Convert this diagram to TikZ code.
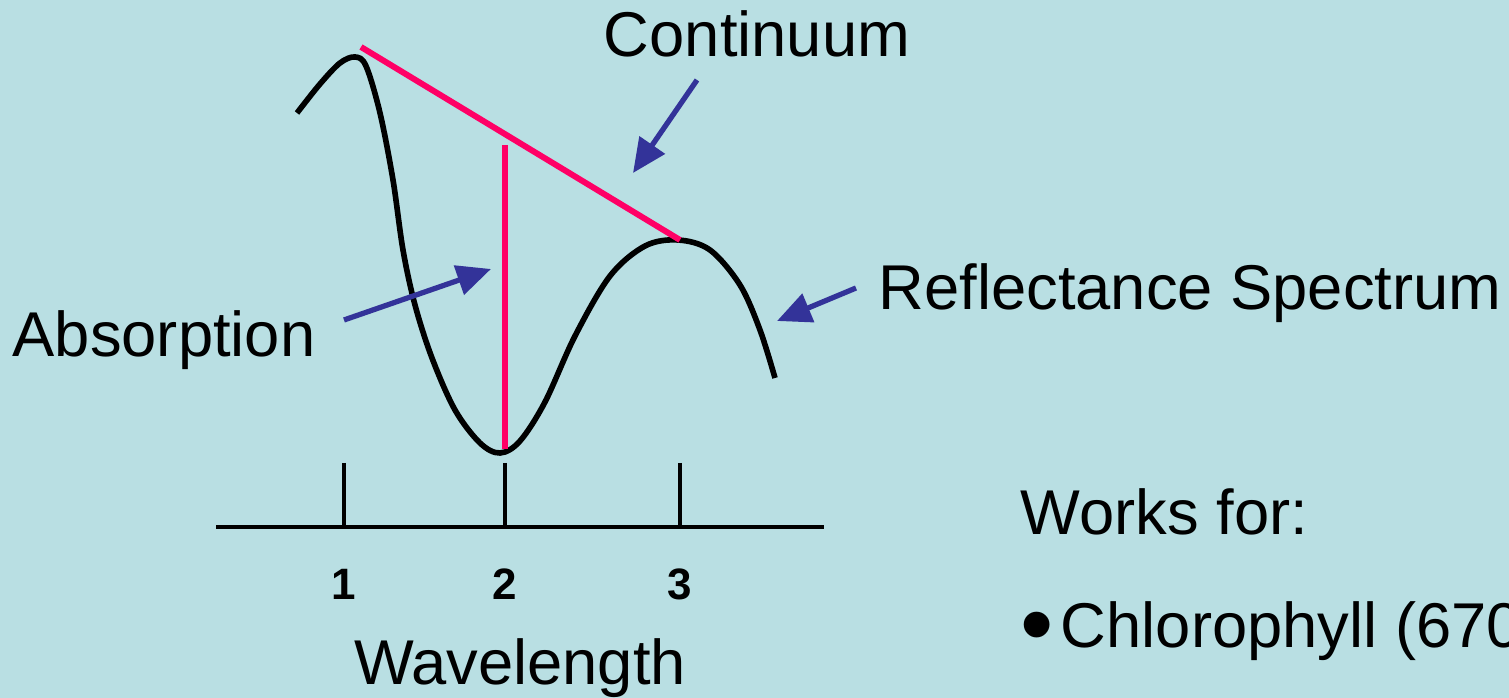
\documentclass[tikz,border=0pt]{standalone}
\usepackage{fontspec}
\setmainfont{Liberation Sans}
\usepackage{tikz}
\usetikzlibrary{arrows.meta, positioning, calc}
\definecolor{slidebg}{HTML}{B9DFE3}
\definecolor{contpink}{HTML}{FF0066}
\definecolor{pointblue}{HTML}{333399}

\begin{document}
\begin{tikzpicture}[
    x=0.01cm, y=-0.01cm,
    label/.style={inner sep=0pt, font=\fontsize{18}{21}\selectfont},
    ticklabel/.style={inner sep=0pt, font=\fontsize{12.5}{14}\selectfont\bfseries},
    spectrum/.style={line width=1.6pt, line join=round},
    continuum/.style={draw=contpink, line width=1.7pt},
    axis/.style={line width=1.3pt},
    pointer/.style={draw=pointblue, line width=1.5pt, -{Triangle[length=0.34cm, width=0.3cm]}},
]
  \fill[slidebg] (0,0) rectangle (1509,698);
  \useasboundingbox (0,0) rectangle (1509,698);

  % axis and ticks
  \coordinate (axL) at (216,527);
  \coordinate (axR) at (824,527);
  \draw[axis] (axL) -- (axR);
  \foreach \n/\x in {1/344, 2/505, 3/680} {
    \draw[axis] (\x,463) -- (\x,527);
    \node[ticklabel, anchor=base] (tick\n) at (\x,600) {\n};
  }
  \node[label, anchor=base] (wave) at (520,685) {Wavelength};

  % reflectance spectrum
  \draw[spectrum] plot[smooth, tension=0.55] coordinates {
    (297,113) (320,84) (340,63) (355,57) (366,66) (380,113) (393,180)
    (403,250) (415,305) (432,358) (455,410) (480,443) (500,453)
    (520,441) (545,402) (575,336) (610,276) (645,246) (678,240)
    (710,250) (740,285) (760,330) (775,378)};

  % continuum and absorption depth
  \coordinate (peakA) at (361,47);
  \coordinate (peakB) at (680,240);
  \coordinate (depTop) at (505,145);
  \coordinate (depBot) at (505,449);
  \draw[continuum] (peakA) -- (peakB);
  \draw[continuum] (depTop) -- (depBot);

  % labels
  \node[label, anchor=base] (cont) at (757,57) {Continuum};
  \node[label, anchor=base west] (absorb) at (12,357) {Absorption};
  \node[label, anchor=base west] (refl) at (878,310) {Reflectance Spectrum};
  \node[label, anchor=base west] (works) at (1020,535) {Works for:};
  \node[label, anchor=base west] (chloro) at (1020,648)
    {\raisebox{-0.08cm}{\scalebox{1.5}{•}}\hspace{0.07cm}Chlorophyll (670};

  % pointers
  \coordinate (contTail) at (697,80);
  \coordinate (contHead) at (633,173);
  \coordinate (absTail) at (344,320);
  \coordinate (absHead) at (491,269);
  \coordinate (reflTail) at (856,288);
  \coordinate (reflHead) at (777,321);
  \draw[pointer] (contTail) -- (contHead);
  \draw[pointer] (absTail) -- (absHead);
  \draw[pointer] (reflTail) -- (reflHead);
\end{tikzpicture}
\end{document}
